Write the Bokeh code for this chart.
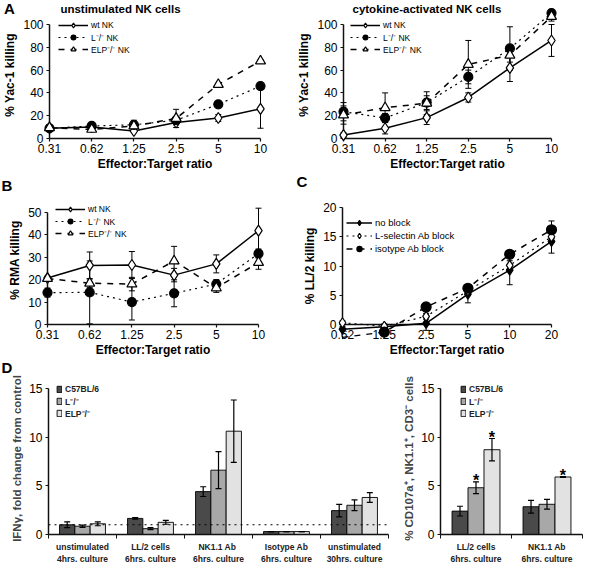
from bokeh.plotting import figure
from bokeh.layouts import column, row
from bokeh.models import Range1d, FixedTicker, Legend, LegendItem, Span
from bokeh.embed import file_html
from bokeh.resources import INLINE
from bokeh.core.properties import value

FONT = "Liberation Sans"

# ------------------------------------------------------------------ data
ratios_A = ["0.31", "0.62", "1.25", "2.5", "5", "10"]
ratios_C = ["0.62", "1.25", "2.5", "5", "10", "20"]

# A, unstimulated NK cells (% Yac-1 killing)
unstim_wt = [9, 10, 6.6, 14, 18, 26]
unstim_wt_err = [0, 2, 1.5, 2, 3, 17]
unstim_L = [9, 11, 12, 16, 30, 46]
unstim_L_err = [3, 1.5, 2, 2, 1, 0]
unstim_ELP = [9.5, 8, 11, 17.6, 47.4, 68]
unstim_ELP_err = [2, 2, 5, 8, 1, 1]

# A, cytokine-activated NK cells (% Yac-1 killing)
act_wt = [3, 9, 18.3, 36, 62, 86]
act_wt_err = [2, 5, 6, 4, 12, 14]
act_L = [23.5, 18, 31.5, 54, 79, 110]
act_L_err = [8, 4, 6, 6, 19, 3]
act_ELP = [20.6, 27, 31, 65, 73, 107]
act_ELP_err = [8, 13, 10, 21, 6, 4]

# B, % RMA killing
rma_wt = [20.7, 26.3, 26.5, 22, 27, 41.8]
rma_wt_err = [0, 6, 6, 3, 4, 10]
rma_L = [14.2, 14.3, 10, 13.9, 18, 31.6]
rma_L_err = [2, 14, 8, 6, 2, 2]
rma_ELP = [20.5, 18.4, 18, 28.3, 16.3, 27.6]
rma_ELP_err = [1, 2, 3, 6.5, 2, 3]

# C, % LL/2 killing
ll2_noblock = [-0.8, -0.4, 0.2, 5.2, 9.3, 14.2]
ll2_noblock_err = [0.5, 0.5, 1.2, 1.5, 2.5, 2.0]
ll2_Lsel = [0.3, -0.3, 1.4, 5.75, 10.1, 15.0]
ll2_Lsel_err = [0.3, 0.3, 0.5, 0.8, 0.8, 1.0]
ll2_iso = [-2.2, -1.3, 3.0, 6.2, 12.0, 16.2]
ll2_iso_err = [0.3, 0.3, 0.3, 0.5, 0.5, 1.5]

# D, IFN-gamma fold change
ifn_groups = ["unstimulated\n4hrs. culture", "LL/2 cells\n6hrs. culture",
              "NK1.1  Ab\n6hrs. culture", "Isotype Ab\n6hrs. culture",
              "unstimulated\n30hrs. culture"]
ifn_C57 = [1.0, 1.65, 4.4, 0.3, 2.45]
ifn_C57_err = [0.3, 0.08, 0.5, 0, 0.65]
ifn_L = [0.85, 0.6, 6.6, 0.3, 3.0]
ifn_L_err = [0.12, 0.1, 1.9, 0, 0.55]
ifn_ELP = [1.1, 1.25, 10.6, 0.3, 3.8]
ifn_ELP_err = [0.2, 0.2, 3.2, 0, 0.5]
control_level = 1.0

# D, % CD107a+ NK1.1+ CD3- cells
cd_groups = ["LL/2 cells\n6hrs. culture", "NK1.1 Ab\n6hrs. culture"]
cd_C57 = [2.4, 2.85]
cd_C57_err = [0.5, 0.65]
cd_L = [4.8, 3.1]
cd_L_err = [0.6, 0.5]
cd_ELP = [8.7, 5.9]
cd_ELP_err = [1.15, 0.05]
cd_L_sig = [True, False]
cd_ELP_sig = [True, True]

bar_labels = ["C57BL/6", "L\u207b/\u207b", "ELP\u207b/\u207b"]
bar_colors = ["#4a4a4a", "#a8a8a8", "#e2e2e2"]


# ------------------------------------------------------------------ helpers
class Panel:
    """origin/size of the figure canvas; axis box = where the drawn axes lie
    (left, top, right, bottom, in pixels); extra = frame pixels above the axis top."""

    def __init__(self, origin, size, axis_box, xr, yr, extra=0):
        ox, oy = origin
        w, h = size
        ax0, ay0, ax1, ay1 = axis_box
        upp = (yr[1] - yr[0]) / (ay1 - ay0)
        y_end = yr[1] + extra * upp
        fy0 = ay0 - extra
        self.frame = (ax0, fy0, ax1, ay1)
        self.frame_h = ay1 - fy0
        self.xr = xr
        self.yr = (yr[0], y_end)
        p = figure(width=w, height=h,
                   min_border_left=ax0 - ox, min_border_right=ox + w - ax1,
                   min_border_top=fy0 - oy, min_border_bottom=oy + h - ay1,
                   x_range=Range1d(*xr), y_range=Range1d(*self.yr),
                   output_backend="svg", toolbar_location=None,
                   background_fill_color="white", border_fill_color="white",
                   outline_line_color=None)
        p.frame_align = False
        p.xgrid.visible = False
        p.ygrid.visible = False
        p.yaxis[0].bounds = yr
        p.xaxis[0].bounds = xr
        self.p = p

    def to_data(self, px, py):
        fx0, fy0, fx1, fy1 = self.frame
        x0, x1 = self.xr
        y0, y1 = self.yr
        dx = x0 + (px - fx0) / (fx1 - fx0) * (x1 - x0)
        dy = y1 - (py - fy0) / (fy1 - fy0) * (y1 - y0)
        return dx, dy

    def text(self, s, px, py, size="12px", style="bold", align="left"):
        dx, dy = self.to_data(px, py)
        self.p.text(x=[dx], y=[dy], text=[s], text_font=value(FONT),
                    text_font_size=size, text_font_style=style,
                    text_align=align, text_baseline="middle",
                    text_color="black", level="overlay")


def style_axes(p, xticks, xlabels, xlabel, ylabel, yticks):
    xa = p.xaxis[0]
    ya = p.yaxis[0]
    xa.ticker = FixedTicker(ticks=xticks)
    xa.major_label_overrides = {t: l for t, l in zip(xticks, xlabels)}
    ya.ticker = FixedTicker(ticks=yticks)
    for ax in (xa, ya):
        ax.axis_line_width = 1.5
        ax.axis_line_color = "#111111"
        ax.major_tick_line_color = "#111111"
        ax.major_tick_line_width = 1.2
        ax.major_tick_out = 3
        ax.major_tick_in = 0
        ax.minor_tick_line_color = None
        ax.major_label_text_font = FONT
        ax.major_label_text_font_size = "12px"
        ax.major_label_text_color = "black"
        ax.axis_label_text_font = FONT
        ax.axis_label_text_font_style = "bold"
        ax.axis_label_text_font_size = "12px"
        ax.axis_label_text_color = "black"
    xa.major_label_standoff = 2
    ya.major_label_standoff = 3
    xa.axis_label_standoff = 1
    ya.axis_label_standoff = 3
    xa.axis_label = xlabel
    ya.axis_label = ylabel


def line_panel(panel, series, legend_x, legend_top, glyph_w=30, row_h=12,
               font="8.5px"):
    p = panel.p
    xs = list(range(len(series[0][1])))
    for label, ys, errs, dash, lw, marker, fill, msize in series:
        lo = [y - e for y, e in zip(ys, errs)]
        hi = [y + e for y, e in zip(ys, errs)]
        p.segment(x0=xs, y0=lo, x1=xs, y1=hi, line_color="black", line_width=1,
                  level="overlay")
        p.scatter(xs + xs, lo + hi, marker="dash", size=6, line_color="black",
                  line_width=1, level="overlay")
    lines = []
    for label, ys, errs, dash, lw, marker, fill, msize in series:
        lines.append(p.line(xs, ys, line_color="black", line_width=lw,
                            line_dash=dash, level="overlay"))
    items = []
    for (label, ys, errs, dash, lw, marker, fill, msize), lr in zip(series, lines):
        mr = p.scatter(xs, ys, marker=marker, size=msize, fill_color=fill,
                       line_color="black", line_width=1.2, level="overlay")
        items.append(LegendItem(label=label, renderers=[lr, mr]))
    pad = 2
    leg_h = 2 * pad + len(items) * row_h
    loc = (legend_x, panel.frame_h - legend_top - leg_h)
    leg = Legend(items=items, location=loc, label_text_font=FONT,
                 label_text_font_size=font, label_text_color="black",
                 glyph_width=glyph_w, glyph_height=row_h, label_height=row_h,
                 label_standoff=3, padding=pad, spacing=0, margin=0,
                 border_line_color=None, background_fill_alpha=0)
    p.add_layout(leg)


def bar_panel(panel, groups, vals, errs, legend_x, legend_top):
    p = panel.p
    n = len(groups)
    offsets = [-0.225, 0.0, 0.225]
    items = []
    for k in range(3):
        xs = [i + 0.5 + offsets[k] for i in range(n)]
        r = p.vbar(x=xs, top=vals[k], width=0.225, bottom=0,
                   fill_color=bar_colors[k], line_color="black", line_width=0.9)
        items.append(LegendItem(label=bar_labels[k], renderers=[r]))
    for k in range(3):
        xs = [i + 0.5 + offsets[k] for i in range(n)]
        lo = [v - e for v, e in zip(vals[k], errs[k])]
        hi = [v + e for v, e in zip(vals[k], errs[k])]
        p.segment(x0=xs, y0=lo, x1=xs, y1=hi, line_color="black", line_width=1.2)
        p.scatter(xs + xs, lo + hi, marker="dash", size=6, line_color="black",
                  line_width=1.2)
    pad = 1
    row_h = 12
    leg_h = 2 * pad + 3 * row_h
    loc = (legend_x, panel.frame_h - legend_top - leg_h)
    leg = Legend(items=items, location=loc, label_text_font=FONT,
                 label_text_font_size="8.5px", label_text_font_style="bold",
                 label_text_color="#222222",
                 glyph_width=6, glyph_height=8, label_height=row_h,
                 label_standoff=3, padding=pad, spacing=0, margin=0,
                 border_line_color=None, background_fill_alpha=0)
    p.add_layout(leg)
    xa = p.xaxis[0]
    xa.ticker = FixedTicker(ticks=[i + 0.5 for i in range(n)],
                            minor_ticks=list(range(n + 1)))
    xa.major_label_overrides = {i + 0.5: g for i, g in enumerate(groups)}
    xa.major_tick_line_color = None
    xa.major_tick_out = 0
    xa.minor_tick_line_color = "#111111"
    xa.minor_tick_out = 4
    xa.minor_tick_in = 0
    xa.major_label_text_font = FONT
    xa.major_label_text_font_size = "8.5px"
    xa.major_label_text_font_style = "bold"
    xa.major_label_text_color = "#222222"
    xa.major_label_standoff = 3
    xa.axis_line_width = 1.5
    xa.axis_line_color = "#111111"
    ya = p.yaxis[0]
    ya.ticker = FixedTicker(ticks=[0, 5, 10, 15])
    ya.axis_line_width = 1.5
    ya.axis_line_color = "#111111"
    ya.major_tick_line_color = "#111111"
    ya.major_tick_out = 3
    ya.major_tick_in = 0
    ya.minor_tick_line_color = None
    ya.major_label_text_font = FONT
    ya.major_label_text_font_size = "12px"
    ya.major_label_text_color = "black"
    ya.major_label_standoff = 3
    ya.axis_label_text_font = FONT
    ya.axis_label_text_font_style = "bold"
    ya.axis_label_text_font_size = "11.5px"
    ya.axis_label_standoff = 3


LBL = ["wt NK", "L\u207b/\u207b NK", "ELP\u207b/\u207b NK"]
STY = [("solid", 1.5, "diamond", "white", 11),
       ("dotted", 1.2, "circle", "black", 9),
       ("dashed", 1.5, "triangle", "white", 10)]


def three(ys_list, errs_list, labels=LBL, styles=STY):
    return [(labels[i], ys_list[i], errs_list[i]) + styles[i] for i in range(3)]


# ------------------------------------------------------------------ panel A left
A1 = Panel((0, 0), (292, 173), (47, 24, 260, 138), (0, 5), (0, 100), extra=13)
style_axes(A1.p, list(range(6)), ratios_A, "Effector:Target ratio", "% Yac-1 killing",
           [0, 20, 40, 60, 80, 100])
line_panel(A1, three([unstim_wt, unstim_L, unstim_ELP],
                     [unstim_wt_err, unstim_L_err, unstim_ELP_err]), 9, 4)
A1.text("A", 1, 8, size="15px")
A1.text("unstimulated NK cells", 58, 8, size="11.5px")

# ------------------------------------------------------------------ panel A right
A2 = Panel((292, 0), (292, 173), (343, 24, 551, 138), (0, 5), (0, 100), extra=13)
style_axes(A2.p, list(range(6)), ratios_A, "Effector:Target ratio", "% Yac-1 killing",
           [0, 20, 40, 60, 80, 100])
line_panel(A2, three([act_wt, act_L, act_ELP],
                     [act_wt_err, act_L_err, act_ELP_err]), 7, 4)
A2.text("cytokine-activated NK cells", 352, 8, size="11.5px")

# ------------------------------------------------------------------ panel B
B = Panel((0, 173), (292, 186), (47, 212, 258, 326), (0, 5), (0, 50), extra=17)
style_axes(B.p, list(range(6)), ratios_A, "Effector:Target ratio", "% RMA killing",
           [0, 10, 20, 30, 40, 50])
line_panel(B, three([rma_wt, rma_L, rma_ELP],
                    [rma_wt_err, rma_L_err, rma_ELP_err]), 8, 6)
B.text("B", 1, 185, size="15px")

# ------------------------------------------------------------------ panel C
C = Panel((292, 173), (292, 186), (342, 207, 551, 325), (0, 5), (0, 20), extra=0)
style_axes(C.p, list(range(6)), ratios_C, "Effector:Target ratio", "% LL/2 killing",
           [0, 5, 10, 15, 20])
C_LBL = ["no block", "L-selectin Ab block", "isotype Ab block"]
C_STY = [("solid", 1.5, "diamond", "black", 10),
         ("dotted", 1.2, "diamond", "white", 10),
         ("dashed", 1.5, "circle", "black", 10)]
line_panel(C, three([ll2_noblock, ll2_Lsel, ll2_iso],
                    [ll2_noblock_err, ll2_Lsel_err, ll2_iso_err], C_LBL, C_STY),
           4, 6, glyph_w=26, row_h=13, font="9.5px")
C.text("C", 296, 181, size="15px")

# ------------------------------------------------------------------ panel D left
D1 = Panel((0, 359), (400, 207), (48, 388, 388, 539), (0, 5), (0, 15), extra=6)
bar_panel(D1, ifn_groups, [ifn_C57, ifn_L, ifn_ELP],
          [ifn_C57_err, ifn_L_err, ifn_ELP_err], 8, 4)
D1.p.yaxis[0].axis_label = "IFN\u03b3, fold change from control"
D1.p.add_layout(Span(location=control_level, dimension="width", line_color="black",
                     line_width=1, line_dash="dotted"))
D1.text("D", 1, 366, size="15px")

# ------------------------------------------------------------------ panel D right
D2 = Panel((400, 359), (184, 207), (436, 388, 582, 539), (0, 2), (0, 15), extra=6)
bar_panel(D2, cd_groups, [cd_C57, cd_L, cd_ELP],
          [cd_C57_err, cd_L_err, cd_ELP_err], 20, 4)
D2.p.yaxis[0].axis_label = "% CD107a\u207a, NK1.1\u207a, CD3\u207b cells"
star_x = []
star_y = []
for i in range(len(cd_groups)):
    if cd_L_sig[i]:
        star_x.append(i + 0.5)
        star_y.append(cd_L[i] + cd_L_err[i] + 0.15)
    if cd_ELP_sig[i]:
        star_x.append(i + 0.5 + 0.225)
        star_y.append(cd_ELP[i] + cd_ELP_err[i] + 0.15)
D2.p.text(x=star_x, y=star_y, text=["*"] * len(star_x), text_font=value(FONT),
          text_font_size="16px", text_font_style="bold", text_align="center",
          text_baseline="middle", text_color="black")

layout = column(row(A1.p, A2.p), row(B.p, C.p), row(D1.p, D2.p))
open("out.html", "w").write(file_html(layout, INLINE))
